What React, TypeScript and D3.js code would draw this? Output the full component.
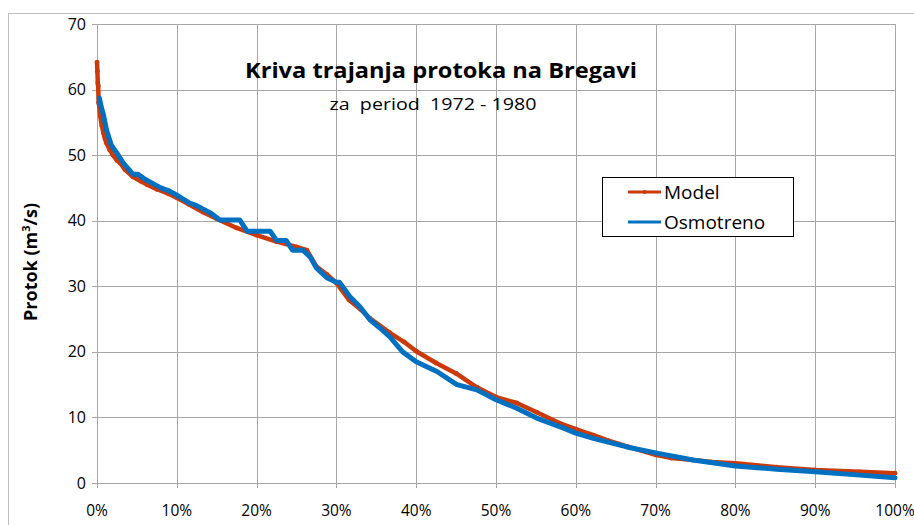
import React, { useEffect, useRef } from 'react';
import * as d3 from 'd3';

// Model (simulated) flow duration curve: exceedance [%] and flow [m3/s]
const modelPct = [0, 0.05, 0.1, 0.15, 0.2, 0.3, 0.4, 0.6, 0.8, 1.0, 1.2, 1.6, 2.0, 2.5, 2.9, 3.5, 4.5, 5.5, 6.3, 7.5, 8.8, 10, 11.5, 13.3, 15, 17.5, 20, 22.5, 25, 26.3, 27.5, 28.8, 30, 31.6, 33, 34.2, 36.7, 38.5, 40, 42.5, 45, 47.6, 50, 52.6, 55.1, 58, 60, 62.2, 64, 66.4, 70, 72, 74.7, 77, 80, 85.2, 90, 95.6, 100];
const modelQ = [64.2, 62.8, 61.0, 60.6, 58.0, 57.4, 56.0, 54.5, 53.4, 52.5, 51.8, 50.8, 50.0, 49.2, 48.8, 47.8, 46.7, 46.0, 45.5, 44.8, 44.2, 43.5, 42.5, 41.3, 40.3, 38.9, 37.8, 36.8, 36.0, 35.5, 33.0, 31.8, 30.5, 27.9, 26.5, 25.1, 22.9, 21.5, 20.1, 18.3, 16.7, 14.6, 13.1, 12.2, 10.8, 9.1, 8.2, 7.3, 6.5, 5.6, 4.3, 3.8, 3.5, 3.2, 3.0, 2.4, 2.0, 1.7, 1.5];

// Observed flow duration curve
const obsPct = [0.3, 0.5, 0.8, 1.2, 1.8, 2.5, 3.3, 4.5, 5.1, 5.8, 6.5, 8, 9.1, 10, 11.6, 12.5, 14.2, 15.4, 17.9, 18.8, 21.7, 22.5, 23.7, 24.5, 25.8, 26.7, 27.5, 28.8, 30, 30.4, 31.7, 33, 34.2, 35.5, 36.7, 38.3, 40, 42.6, 45.1, 47.6, 50, 52.6, 55.1, 58.4, 60, 62.2, 66.4, 70, 74.7, 80, 85.2, 90, 95.6, 100];
const obsQ = [58.7, 57.5, 56.2, 53.8, 51.5, 50.3, 48.8, 47.1, 47.1, 46.5, 46.0, 45.0, 44.5, 43.9, 42.7, 42.3, 41.2, 40.1, 40.1, 38.4, 38.4, 37.0, 37.0, 35.5, 35.5, 34.5, 32.8, 31.3, 30.6, 30.6, 28.4, 26.8, 24.9, 23.6, 22.3, 20.0, 18.5, 17.0, 15.0, 14.2, 12.7, 11.4, 9.9, 8.4, 7.6, 6.8, 5.5, 4.6, 3.5, 2.6, 2.1, 1.7, 1.2, 0.8];

const xTicks = [0, 10, 20, 30, 40, 50, 60, 70, 80, 90, 100];
const yTicks = [0, 10, 20, 30, 40, 50, 60, 70];
const seriesNames = ['Model', 'Osmotreno'];

const RED = '#cc3a0a';
const BLUE = '#0070c0';
const GRID = '#a6a6a6';
const FONT = "'Open Sans', 'Noto Sans', sans-serif";

const App: React.FC = () => {
    const svgRef = useRef<SVGSVGElement>(null);

    useEffect(() => {
        const root = d3.select(svgRef.current);
        root.selectAll('*').remove();

        const width = 914;
        const height = 525;
        const plot = { left: 97, right: 895, top: 24, bottom: 483 };

        root.attr('width', width).attr('height', height);

        // outer chart frame (only top and left fall inside the picture)
        root.append('rect')
            .attr('x', 8.5).attr('y', 13.5)
            .attr('width', 940).attr('height', 560)
            .attr('fill', 'white')
            .attr('stroke', '#bfbfbf');

        const x = d3.scaleLinear().domain([0, 100]).range([plot.left, plot.right]);
        const y = d3.scaleLinear().domain([0, 70]).range([plot.bottom, plot.top]);

        // Gridlines
        root.append('g').selectAll('line.v')
            .data(xTicks)
            .enter().append('line')
            .attr('x1', d => Math.round(x(d)) + 0.5).attr('x2', d => Math.round(x(d)) + 0.5)
            .attr('y1', plot.top).attr('y2', plot.bottom + 5)
            .attr('stroke', GRID).attr('stroke-width', 1);

        root.append('g').selectAll('line.h')
            .data(yTicks)
            .enter().append('line')
            .attr('x1', plot.left - 5).attr('x2', plot.right)
            .attr('y1', d => Math.round(y(d)) + 0.5).attr('y2', d => Math.round(y(d)) + 0.5)
            .attr('stroke', GRID).attr('stroke-width', 1);

        // Tick labels
        root.append('g').selectAll('text')
            .data(yTicks)
            .enter().append('text')
            .attr('x', 86)
            .attr('y', d => y(d))
            .attr('dy', '0.35em')
            .attr('text-anchor', 'end')
            .style('font-family', FONT).style('font-size', '16px').style('fill', '#000')
            .text(d => d);

        root.append('g').selectAll('text')
            .data(xTicks)
            .enter().append('text')
            .attr('x', d => x(d))
            .attr('y', 511)
            .attr('dy', '0.35em')
            .attr('text-anchor', 'middle')
            .style('font-family', FONT).style('font-size', '15.5px').style('fill', '#000')
            .text(d => `${d}%`);

        // Axis title
        const yTitle = root.append('text')
            .attr('transform', 'translate(37,262) rotate(-90)')
            .attr('text-anchor', 'middle')
            .style('font-family', FONT).style('font-size', '18px').style('font-weight', 'bold');
        yTitle.append('tspan').text('Protok (m');
        yTitle.append('tspan').attr('baseline-shift', 'super').style('font-size', '11px').text('3');
        yTitle.append('tspan').text('/s)');

        // Chart titles
        root.append('text')
            .attr('x', 441).attr('y', 78)
            .attr('text-anchor', 'middle')
            .attr('textLength', 392).attr('lengthAdjust', 'spacingAndGlyphs')
            .style('font-family', FONT).style('font-size', '21px').style('font-weight', 'bold')
            .text('Kriva trajanja protoka na Bregavi');

        root.append('text')
            .attr('x', 433).attr('y', 110)
            .attr('text-anchor', 'middle')
            .attr('textLength', 207).attr('lengthAdjust', 'spacingAndGlyphs')
            .style('white-space', 'pre')
            .style('font-family', FONT).style('font-size', '17px')
            .text('za  period  1972 - 1980');

        const model = modelPct.map((p, i) => [p, modelQ[i]] as [number, number]);
        const obs = obsPct.map((p, i) => [p, obsQ[i]] as [number, number]);
        const path = d3.line<[number, number]>().x(d => x(d[0])).y(d => y(d[1]));

        // Model series
        root.append('path')
            .datum(model)
            .attr('d', path)
            .attr('fill', 'none')
            .attr('stroke', RED).attr('stroke-width', 4.5)
            .attr('stroke-linejoin', 'round');

        root.append('g').selectAll('circle')
            .data(model)
            .enter().append('circle')
            .attr('cx', d => x(d[0])).attr('cy', d => y(d[1]))
            .attr('r', 2.4)
            .attr('fill', RED);

        // Observed series
        root.append('path')
            .datum(obs)
            .attr('d', path)
            .attr('fill', 'none')
            .attr('stroke', BLUE).attr('stroke-width', 5)
            .attr('stroke-linejoin', 'round').attr('stroke-linecap', 'round');

        // Legend
        const legend = root.append('g');
        legend.append('rect')
            .attr('x', 602.5).attr('y', 177.5)
            .attr('width', 191).attr('height', 59)
            .attr('fill', 'white').attr('stroke', '#000');

        seriesNames.forEach((name, i) => {
            const ly = 192 + i * 30;
            const color = i === 0 ? RED : BLUE;
            legend.append('line')
                .attr('x1', 628).attr('x2', 661)
                .attr('y1', ly).attr('y2', ly)
                .attr('stroke', color).attr('stroke-width', 3);
            if (i === 0) {
                legend.append('circle').attr('cx', 644.5).attr('cy', ly).attr('r', 2).attr('fill', color);
            }
            legend.append('text')
                .attr('x', 664).attr('y', ly)
                .attr('dy', '0.35em')
                .style('font-family', FONT).style('font-size', '19px')
                .text(name);
        });
    }, []);

    return <svg ref={svgRef} style={{ position: 'absolute', left: 0, top: 0 }}></svg>;
};

export default App;
